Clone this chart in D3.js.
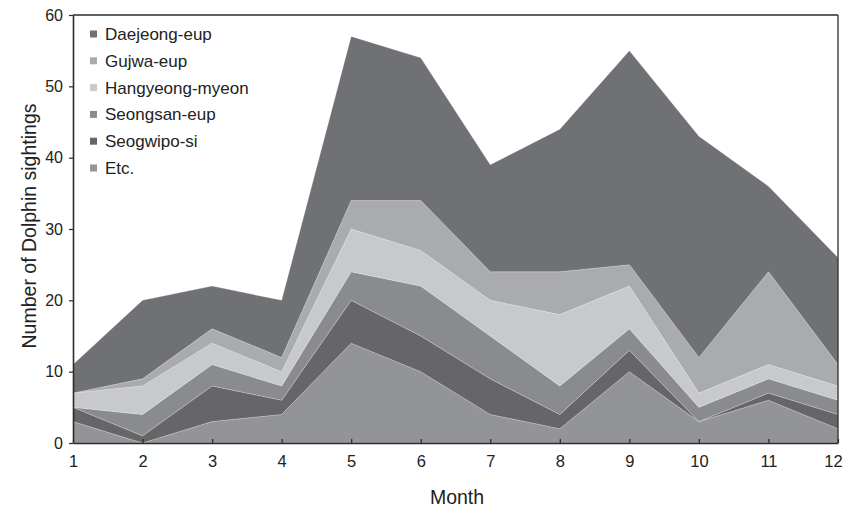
<!DOCTYPE html>
<html>
<head>
<meta charset="utf-8">
<script src="https://cdn.jsdelivr.net/npm/d3@7"></script>
<style>
  html, body { margin: 0; padding: 0; background: #fff; }
  svg { display: block; font-family: "Liberation Sans", Arial, sans-serif; }
</style>
</head>
<body>
<svg id="chart" width="843" height="509"></svg>
<script>
const months = [1, 2, 3, 4, 5, 6, 7, 8, 9, 10, 11, 12];
const etc       = [3, 0, 3, 4, 14, 10, 4, 2, 10, 3, 6, 2];
const seogwipo  = [2, 1, 5, 2, 6, 5, 5, 2, 3, 0, 1, 2];
const seongsan  = [0, 3, 3, 2, 4, 7, 6, 4, 3, 2, 2, 2];
const hangyeong = [2, 4, 3, 2, 6, 5, 5, 10, 6, 2, 2, 2];
const gujwa     = [0, 1, 2, 2, 4, 7, 4, 6, 3, 5, 13, 3];
const daejeong  = [4, 11, 6, 8, 23, 20, 15, 20, 30, 31, 12, 15];
const yTicks = [0, 10, 20, 30, 40, 50, 60];

// stacking order bottom -> top
const seriesNames = ["Etc.", "Seogwipo-si", "Seongsan-eup", "Hangyeong-myeon", "Gujwa-eup", "Daejeong-eup"];
const seriesValues = [etc, seogwipo, seongsan, hangyeong, gujwa, daejeong];
const seriesColors = ["#939497", "#666668", "#8a8b8e", "#c8c9cb", "#aaabae", "#707175"];
// legend order top -> bottom
const legendOrder = ["Daejeong-eup", "Gujwa-eup", "Hangyeong-myeon", "Seongsan-eup", "Seogwipo-si", "Etc."];

const table = months.map((m, i) => {
  const row = { month: m };
  seriesNames.forEach((n, k) => row[n] = seriesValues[k][i]);
  return row;
});

const svg = d3.select("#chart");
const mLeft = 73, mRight = 838, mTop = 15, mBottom = 443;

const x = d3.scaleLinear().domain([1, 12]).range([mLeft, mRight]);
const y = d3.scaleLinear().domain([0, 60]).range([mBottom, mTop]);

const stack = d3.stack().keys(seriesNames);
const layers = stack(table);

const area = d3.area()
  .x(d => x(d.data.month))
  .y0(d => y(d[0]))
  .y1(d => y(d[1]));

svg.append("g").selectAll("path")
  .data(layers)
  .join("path")
  .attr("d", area)
  .attr("fill", (d, i) => seriesColors[i])
  .attr("stroke", "rgba(255,255,255,0.35)")
  .attr("stroke-width", 0.6)
  .attr("stroke-linejoin", "round");

const axisColor = "#2b2b2b";

// frame top and right
svg.append("line").attr("x1", mLeft).attr("x2", mRight).attr("y1", mTop).attr("y2", mTop)
  .attr("stroke", axisColor).attr("stroke-width", 1.3);
svg.append("line").attr("x1", mRight).attr("x2", mRight).attr("y1", mTop).attr("y2", mBottom)
  .attr("stroke", axisColor).attr("stroke-width", 1.3);

// x axis, ticks inward
const xAxis = d3.axisBottom(x).tickValues(months).tickFormat(d3.format("d")).tickSizeInner(-4).tickSizeOuter(0).tickPadding(12);
const gx = svg.append("g").attr("transform", `translate(0,${mBottom})`).call(xAxis);
gx.select(".domain").attr("stroke", axisColor).attr("stroke-width", 1.6);
gx.selectAll(".tick line").attr("stroke", axisColor).attr("stroke-width", 1.2);
gx.selectAll("text").attr("font-size", 16.5).attr("fill", "#222").attr("font-family", "Liberation Sans, Arial, sans-serif");
// keep the last label inside the canvas
gx.selectAll(".tick").filter(d => d === 12).select("text").attr("dx", "-5");

// y axis, ticks outward
const yAxis = d3.axisLeft(y).tickValues(yTicks).tickSizeInner(4).tickSizeOuter(0).tickPadding(6);
const gy = svg.append("g").attr("transform", `translate(${mLeft},0)`).call(yAxis);
gy.select(".domain").attr("stroke", axisColor).attr("stroke-width", 1.6);
gy.selectAll(".tick line").attr("stroke", axisColor).attr("stroke-width", 1.2);
gy.selectAll("text").attr("font-size", 16).attr("fill", "#222").attr("font-family", "Liberation Sans, Arial, sans-serif");

// axis titles
svg.append("text").attr("x", 457).attr("y", 504).attr("text-anchor", "middle")
  .attr("font-size", 19.5).attr("fill", "#222").text("Month");
svg.append("text").attr("transform", `translate(36,226) rotate(-90)`).attr("text-anchor", "middle")
  .attr("font-size", 19.5).attr("fill", "#222").text("Number of Dolphin sightings");

// legend
const lg = svg.append("g");
legendOrder.forEach((name, i) => {
  const k = seriesNames.indexOf(name);
  const cy = 34 + i * 26.8;
  lg.append("rect").attr("x", 90).attr("y", cy - 3.5).attr("width", 7).attr("height", 7)
    .attr("fill", seriesColors[k]);
  lg.append("text").attr("x", 105).attr("y", cy).attr("dy", "0.35em")
    .attr("font-size", 17).attr("fill", "#222").text(name);
});
</script>
</body>
</html>
